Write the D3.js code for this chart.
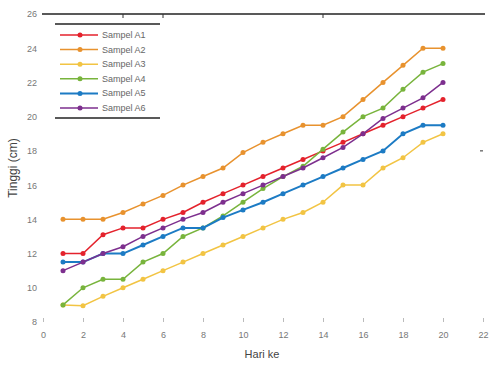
<!DOCTYPE html>
<html>
<head>
<meta charset="utf-8">
<script src="https://cdn.jsdelivr.net/npm/d3@7"></script>
<style>
  body { margin: 0; background: #fff; }
  svg { font-family: "Liberation Sans", Arial, sans-serif; }
</style>
</head>
<body>
<svg width="489" height="367"></svg>
<script>

var days = [1,2,3,4,5,6,7,8,9,10,11,12,13,14,15,16,17,18,19,20];

var sampelA1 = [12.0,12.0,13.1,13.5,13.5,14.0,14.4,15.0,15.5,16.0,16.5,17.0,17.5,18.0,18.5,19.0,19.5,20.0,20.5,21.0];
var sampelA2 = [14.0,14.0,14.0,14.4,14.9,15.4,16.0,16.5,17.0,17.9,18.5,19.0,19.5,19.5,20.0,21.0,22.0,23.0,24.0,24.0];
var sampelA3 = [9.0,8.95,9.5,10.0,10.5,11.0,11.5,12.0,12.5,13.0,13.5,14.0,14.4,15.0,16.0,16.0,17.0,17.6,18.5,19.0];
var sampelA4 = [9.0,10.0,10.5,10.5,11.5,12.0,13.0,13.5,14.2,15.0,15.8,16.5,17.1,18.1,19.1,20.0,20.5,21.6,22.6,23.1];
var sampelA5 = [11.5,11.5,12.0,12.0,12.5,13.0,13.5,13.5,14.1,14.55,15.0,15.5,16.0,16.5,17.0,17.5,18.0,19.0,19.5,19.5];
var sampelA6 = [11.0,11.5,12.0,12.4,13.0,13.5,14.0,14.4,15.0,15.5,16.0,16.5,17.0,17.6,18.2,19.0,19.9,20.5,21.1,22.0];

var seriesNames = ["Sampel A1","Sampel A2","Sampel A3","Sampel A4","Sampel A5","Sampel A6"];
var seriesValues = [sampelA1, sampelA2, sampelA3, sampelA4, sampelA5, sampelA6];
var seriesColors = ["#e4222c","#e8922e","#f2c443","#78b43c","#1c7bc4","#7d2f8e"];

var xTicks = [0,2,4,6,8,10,12,14,16,18,20,22];
var yTicks = [8,10,12,14,16,18,20,22,24,26];

var svg = d3.select('svg');

var x = d3.scaleLinear().domain([0, 22]).range([43, 483]);
var y = d3.scaleLinear().domain([8, 26]).range([322, 14]);

// axes: faint ticks, labels in grey
var xAxis = svg.append('g')
  .attr('transform', 'translate(0,' + y(8) + ')')
  .call(d3.axisBottom(x).tickValues(xTicks).tickSize(-4).tickPadding(10));
xAxis.select('.domain').remove();
xAxis.selectAll('line').attr('stroke', '#bbb');
xAxis.selectAll('text').attr('fill', '#777').attr('font-size', 9);

var yAxis = svg.append('g')
  .attr('transform', 'translate(' + x(0) + ',0)')
  .call(d3.axisLeft(y).tickValues(yTicks).tickSize(0).tickPadding(6));
yAxis.select('.domain').remove();
yAxis.selectAll('text').attr('fill', '#777').attr('font-size', 9);

// top frame line
svg.append('line')
  .attr('x1', x(0) - 1).attr('x2', x(22) + 2)
  .attr('y1', y(26)).attr('y2', y(26))
  .attr('stroke', '#222').attr('stroke-width', 1.3);

svg.append('g').selectAll('line').data([4, 6, 14]).enter().append('line')
  .attr('x1', function(d){ return x(d); })
  .attr('x2', function(d){ return x(d); })
  .attr('y1', y(26)).attr('y2', y(26) + 4)
  .attr('stroke', '#333');

svg.append('line')
  .attr('x1', x(22) - 3).attr('x2', x(22))
  .attr('y1', y(18)).attr('y2', y(18))
  .attr('stroke', '#333');

// lines
var line = d3.line()
  .x(function(d){ return x(d[0]); })
  .y(function(d){ return y(d[1]); });

var series = svg.append('g').selectAll('g')
  .data(seriesValues)
  .enter()
  .append('g')
  .each(function(vals, i){
    var g = d3.select(this);
    var pts = days.map(function(d, j){ return [d, vals[j]]; });

    g.append('path')
      .attr('d', line(pts))
      .attr('fill', 'none')
      .attr('stroke', seriesColors[i])
      .attr('stroke-width', i == 4 ? 2 : 1.5);

    g.selectAll('circle').data(pts).enter().append('circle')
      .attr('cx', function(d){ return x(d[0]); })
      .attr('cy', function(d){ return y(d[1]); })
      .attr('r', 2.5)
      .attr('fill', seriesColors[i]);
  });

// legend
var legend = svg.append('g');

legend.append('line')
  .attr('x1', 55).attr('x2', 160).attr('y1', 24).attr('y2', 24)
  .attr('stroke', '#222').attr('stroke-width', 1.3);
legend.append('line')
  .attr('x1', 55).attr('x2', 160).attr('y1', 118).attr('y2', 118)
  .attr('stroke', '#222').attr('stroke-width', 1.3);

legend.selectAll('g.item').data(seriesNames).enter().append('g')
  .attr('class', 'item')
  .attr('transform', function(d, i){ return 'translate(0,' + (35 + i * 14.6) + ')'; })
  .each(function(d, i){
    var g = d3.select(this);
    g.append('line')
      .attr('x1', 60).attr('x2', 98)
      .attr('stroke', seriesColors[i])
      .attr('stroke-width', i == 4 ? 2 : 1.5);
    g.append('circle')
      .attr('cx', 80).attr('r', 2.5)
      .attr('fill', seriesColors[i]);
    g.append('text')
      .attr('x', 102).attr('y', 3)
      .attr('font-size', 9)
      .attr('fill', '#666')
      .text(d);
  });

// axis titles
svg.append('text')
  .attr('transform', 'translate(17,' + y(17) + ') rotate(-90)')
  .attr('text-anchor', 'middle')
  .attr('font-size', 12)
  .attr('fill', '#444')
  .text('Tinggi (cm)');

svg.append('text')
  .attr('x', 262).attr('y', 358)
  .attr('text-anchor', 'middle')
  .attr('font-size', 11)
  .attr('fill', '#444')
  .text('Hari ke');

</script>
</body>
</html>
